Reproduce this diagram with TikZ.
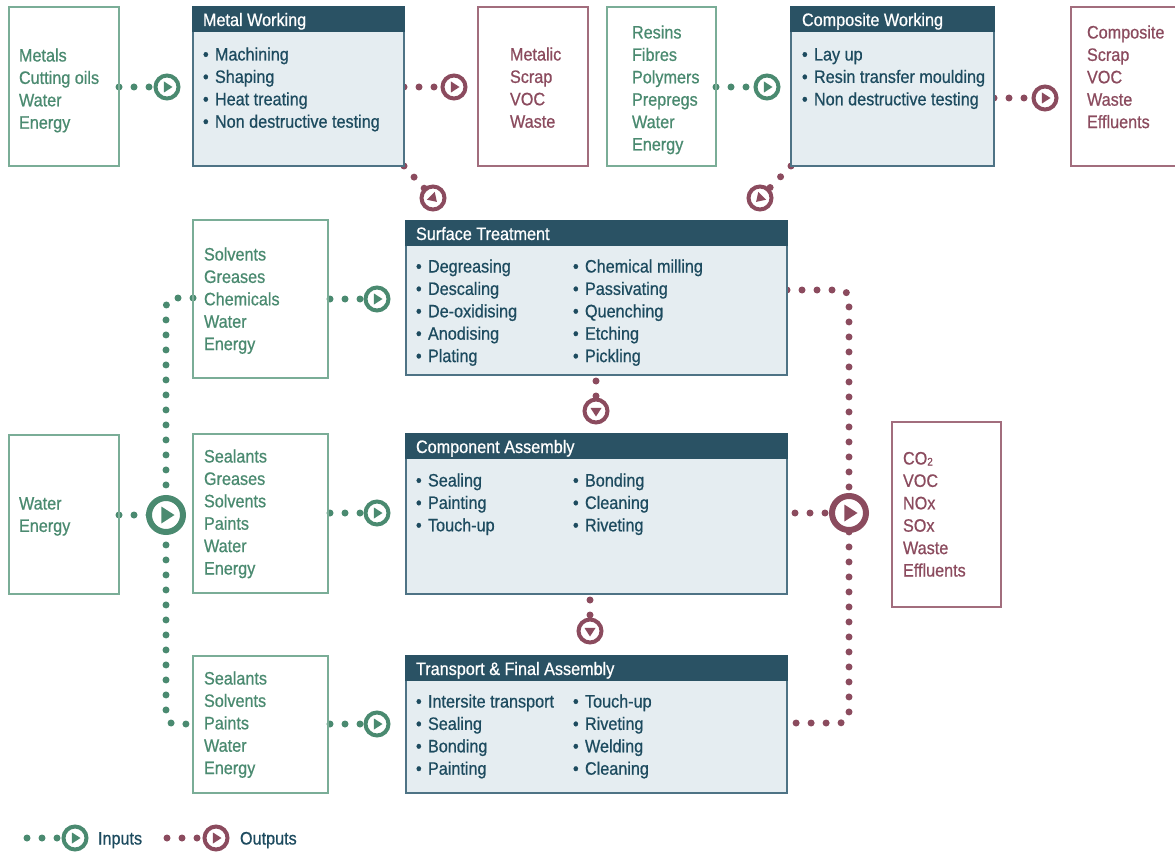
\documentclass[tikz,border=0pt]{standalone}
\usepackage{fontspec}
\setmainfont{Liberation Sans}[FakeStretch=0.9, FakeBold=0.7]
\usetikzlibrary{calc,backgrounds}

\definecolor{ingreen}{HTML}{4A8A70}
\definecolor{greenedge}{HTML}{7AAD97}
\definecolor{outred}{HTML}{8B4B5E}
\definecolor{rededge}{HTML}{A26D7D}
\definecolor{headblue}{HTML}{2A5264}
\definecolor{bodyblue}{HTML}{E5EDF1}
\definecolor{edgeblue}{HTML}{4E7385}
\definecolor{itemblue}{HTML}{1D4B5F}

% stacked lines whose first baseline is the node's base
\newcommand\txtblock[1]{\parbox[t]{8cm}{\raggedright #1}}
\newcommand\bul{\makebox[12pt][l]{•}}
% play triangle inside a marker: node, angle, colour, half height
\newcommand\playtri[4]{%
  \fill[#3, shift={(#1.center)}, rotate=#2]
    (-0.55*#4,-#4) -- (#4,0) -- (-0.55*#4,#4) -- cycle;}

\tikzset{
  every node/.style={inner sep=0pt, outer sep=0pt},
  txt/.style={anchor=base west, font=\fontsize{18}{22.4}\selectfont},
  gtxt/.style={txt, text=ingreen},
  rtxt/.style={txt, text=outred},
  itxt/.style={txt, text=itemblue},
  htxt/.style={txt, text=white},
  inbox/.style={draw=greenedge, line width=1.2pt, anchor=north west},
  outbox/.style={draw=rededge, line width=1.2pt, anchor=north west},
  procbox/.style={draw=edgeblue, fill=bodyblue, line width=1.4pt, anchor=north west},
  headbar/.style={draw=headblue, fill=headblue, line width=1.4pt, anchor=north west, minimum height=24pt},
  gdots/.style={draw=ingreen, line width=7pt, line cap=round, dash pattern=on 0pt off 15pt},
  rdots/.style={draw=outred, line width=7pt, line cap=round, dash pattern=on 0pt off 15pt},
  gico/.style={circle, draw=ingreen, fill=white, line width=4pt, minimum size=23pt},
  rico/.style={circle, draw=outred, fill=white, line width=4pt, minimum size=23pt},
  gbig/.style={circle, draw=ingreen, fill=white, line width=6pt, minimum size=34pt},
  rbig/.style={circle, draw=outred, fill=white, line width=6pt, minimum size=34pt},
}

\begin{document}
\begin{tikzpicture}[x=1pt,y=-1pt]
\useasboundingbox (0,0) rectangle (1175,853);

% ---- boxes, top row
\node[inbox, minimum width=110pt, minimum height=159pt] (inMW) at (9,7) {};
\node[procbox, minimum width=211pt, minimum height=159pt] (mw) at (193,7) {};
\node[headbar, minimum width=211pt] (mwh) at (193,7) {};
\node[outbox, minimum width=110pt, minimum height=159pt] (outMW) at (478,7) {};
\node[inbox, minimum width=109pt, minimum height=159pt] (inCW) at (607,7) {};
\node[procbox, minimum width=203pt, minimum height=159pt] (cw) at (791,7) {};
\node[headbar, minimum width=203pt] (cwh) at (791,7) {};
\node[outbox, minimum width=130pt, minimum height=159pt] (outCW) at (1071,7) {};

% ---- process column
\node[procbox, minimum width=381pt, minimum height=154pt] (st) at (406,221) {};
\node[headbar, minimum width=381pt] (sth) at (406,221) {};
\node[procbox, minimum width=381pt, minimum height=160pt] (ca) at (406,434) {};
\node[headbar, minimum width=381pt] (cah) at (406,434) {};
\node[procbox, minimum width=381pt, minimum height=137pt] (tfa) at (406,656) {};
\node[headbar, minimum width=381pt] (tfah) at (406,656) {};

% ---- input and output boxes around the column
\node[inbox, minimum width=135pt, minimum height=158pt] (s1) at (193,220) {};
\node[inbox, minimum width=135pt, minimum height=159pt] (s2) at (193,434) {};
\node[inbox, minimum width=135pt, minimum height=137pt] (s3) at (193,656) {};
\node[inbox, minimum width=110pt, minimum height=159pt] (water) at (9,435) {};
\node[outbox, minimum width=109pt, minimum height=185pt] (emis) at (892,422) {};

% ---- flow markers
\node[gico] (iMW) at (167,87) {};
\node[rico] (oMW) at (454,87) {};
\node[gico] (iCW) at (767,87) {};
\node[rico] (oCW) at (1045,98) {};
\node[rico] (dMW) at (433,198) {};
\node[rico] (dCW) at (760,198) {};
\node[rico] (dST) at (596,411) {};
\node[rico] (dCA) at (590,631) {};
\node[gico] (iST) at (377,299) {};
\node[gico] (iCA) at (377,513) {};
\node[gico] (iTF) at (377,724) {};
\node[gbig] (hubIn) at (166,515) {};
\node[rbig] (hubOut) at (849,513) {};
\node[gico] (legIn) at (75,838) {};
\node[rico] (legOut) at (216,838) {};
\coordinate (legInStart) at (27,838);
\coordinate (legOutStart) at (167,838);

\foreach \m in {iMW,iCW,iST,iCA,iTF,legIn} {\playtri{\m}{0}{ingreen}{5.5}}
\foreach \m in {oMW,oCW,legOut} {\playtri{\m}{0}{outred}{5.5}}
\playtri{dMW}{-45}{outred}{5.5}
\playtri{dCW}{-135}{outred}{5.5}
\playtri{dST}{-90}{outred}{5.5}
\playtri{dCA}{-90}{outred}{5.5}
\playtri{hubIn}{0}{ingreen}{8.5}
\playtri{hubOut}{0}{outred}{8.5}

% ---- dotted connectors
\begin{scope}[on background layer]
\fill[white] (0,0) rectangle (1175,853);
\draw[gdots] (inMW.east |- iMW) -- (iMW.center);
\draw[rdots] (mw.east |- oMW) -- (oMW.center);
\draw[gdots] (inCW.east |- iCW) -- (iCW.center);
\draw[rdots] (cw.east |- oCW) -- (oCW.center);
\draw[rdots] (mw.south east) -- (dMW.center);
\draw[rdots] (cw.south west) -- (dCW.center);
\draw[rdots] ($(st.south -| dST)+(0,6)$) -- (dST.center);
\draw[rdots] ($(ca.south -| dCA)+(0,6)$) -- (dCA.center);
\draw[gdots] ($(s1.east |- iST)+(2,0)$) -- (iST.center);
\draw[gdots] ($(s2.east |- iCA)+(2,0)$) -- (iCA.center);
\draw[gdots] ($(s3.east |- iTF)+(2,0)$) -- (iTF.center);
\draw[gdots] (water.east |- hubIn) -- (hubIn.center);
\draw[gdots, rounded corners=9pt] (s1.west |- 0,298) -- (hubIn |- 0,298) -- (hubIn |- 0,724) -- (s3.west |- 0,724);
\draw[rdots, rounded corners=9pt] (st.east |- 0,290) -- (hubOut |- 0,290) -- (hubOut |- 0,723) -- (tfa.east |- 0,723);
\draw[rdots] ($(ca.east |- hubOut)+(8,0)$) -- (hubOut.center);
\draw[gdots] (legInStart) -- (legIn.center);
\draw[rdots] (legOutStart) -- (legOut.center);
\end{scope}

% ---- texts
\node[gtxt] (tInMW) at (19,61.5) {\txtblock{Metals\\Cutting oils\\Water\\Energy}};
\node[htxt] (hMW) at (203,26) {Metal Working};
\node[itxt] (lMW) at (203,60.5) {\txtblock{\bul Machining\\\bul Shaping\\\bul Heat treating\\\bul Non destructive testing}};
\node[rtxt] (tOutMW) at (510,60.5) {\txtblock{Metalic\\Scrap\\VOC\\Waste}};
\node[gtxt] (tInCW) at (632,38.5) {\txtblock{Resins\\Fibres\\Polymers\\Prepregs\\Water\\Energy}};
\node[htxt] (hCW) at (802,26) {Composite Working};
\node[itxt] (lCW) at (802,60.5) {\txtblock{\bul Lay up\\\bul Resin transfer moulding\\\bul Non destructive testing}};
\node[rtxt] (tOutCW) at (1087,38.5) {\txtblock{Composite\\Scrap\\VOC\\Waste\\Effluents}};

\node[htxt] (hST) at (416,240) {Surface Treatment};
\node[itxt] (lST) at (416,272.5) {\txtblock{\bul Degreasing\\\bul Descaling\\\bul De-oxidising\\\bul Anodising\\\bul Plating}};
\node[itxt] (rST) at (573,272.5) {\txtblock{\bul Chemical milling\\\bul Passivating\\\bul Quenching\\\bul Etching\\\bul Pickling}};

\node[htxt] (hCA) at (416,453) {Component Assembly};
\node[itxt] (lCA) at (416,486.5) {\txtblock{\bul Sealing\\\bul Painting\\\bul Touch-up}};
\node[itxt] (rCA) at (573,486.5) {\txtblock{\bul Bonding\\\bul Cleaning\\\bul Riveting}};

\node[htxt] (hTF) at (416,675) {Transport \& Final Assembly};
\node[itxt] (lTF) at (416,707.5) {\txtblock{\bul Intersite transport\\\bul Sealing\\\bul Bonding\\\bul Painting}};
\node[itxt] (rTF) at (573,707.5) {\txtblock{\bul Touch-up\\\bul Riveting\\\bul Welding\\\bul Cleaning}};

\node[gtxt] (tS1) at (204,260.5) {\txtblock{Solvents\\Greases\\Chemicals\\Water\\Energy}};
\node[gtxt] (tS2) at (204,462.5) {\txtblock{Sealants\\Greases\\Solvents\\Paints\\Water\\Energy}};
\node[gtxt] (tS3) at (204,684.5) {\txtblock{Sealants\\Solvents\\Paints\\Water\\Energy}};
\node[gtxt] (tWater) at (19,509.5) {\txtblock{Water\\Energy}};
\node[rtxt] (tEmis) at (903,464.5) {\txtblock{CO\raisebox{-1pt}{\fontsize{11}{11}\selectfont 2}\\VOC\\NOx\\SOx\\Waste\\Effluents}};

\node[itxt] (legInT) at (98,844.5) {Inputs};
\node[itxt] (legOutT) at (240,844.5) {Outputs};
\end{tikzpicture}
\end{document}
